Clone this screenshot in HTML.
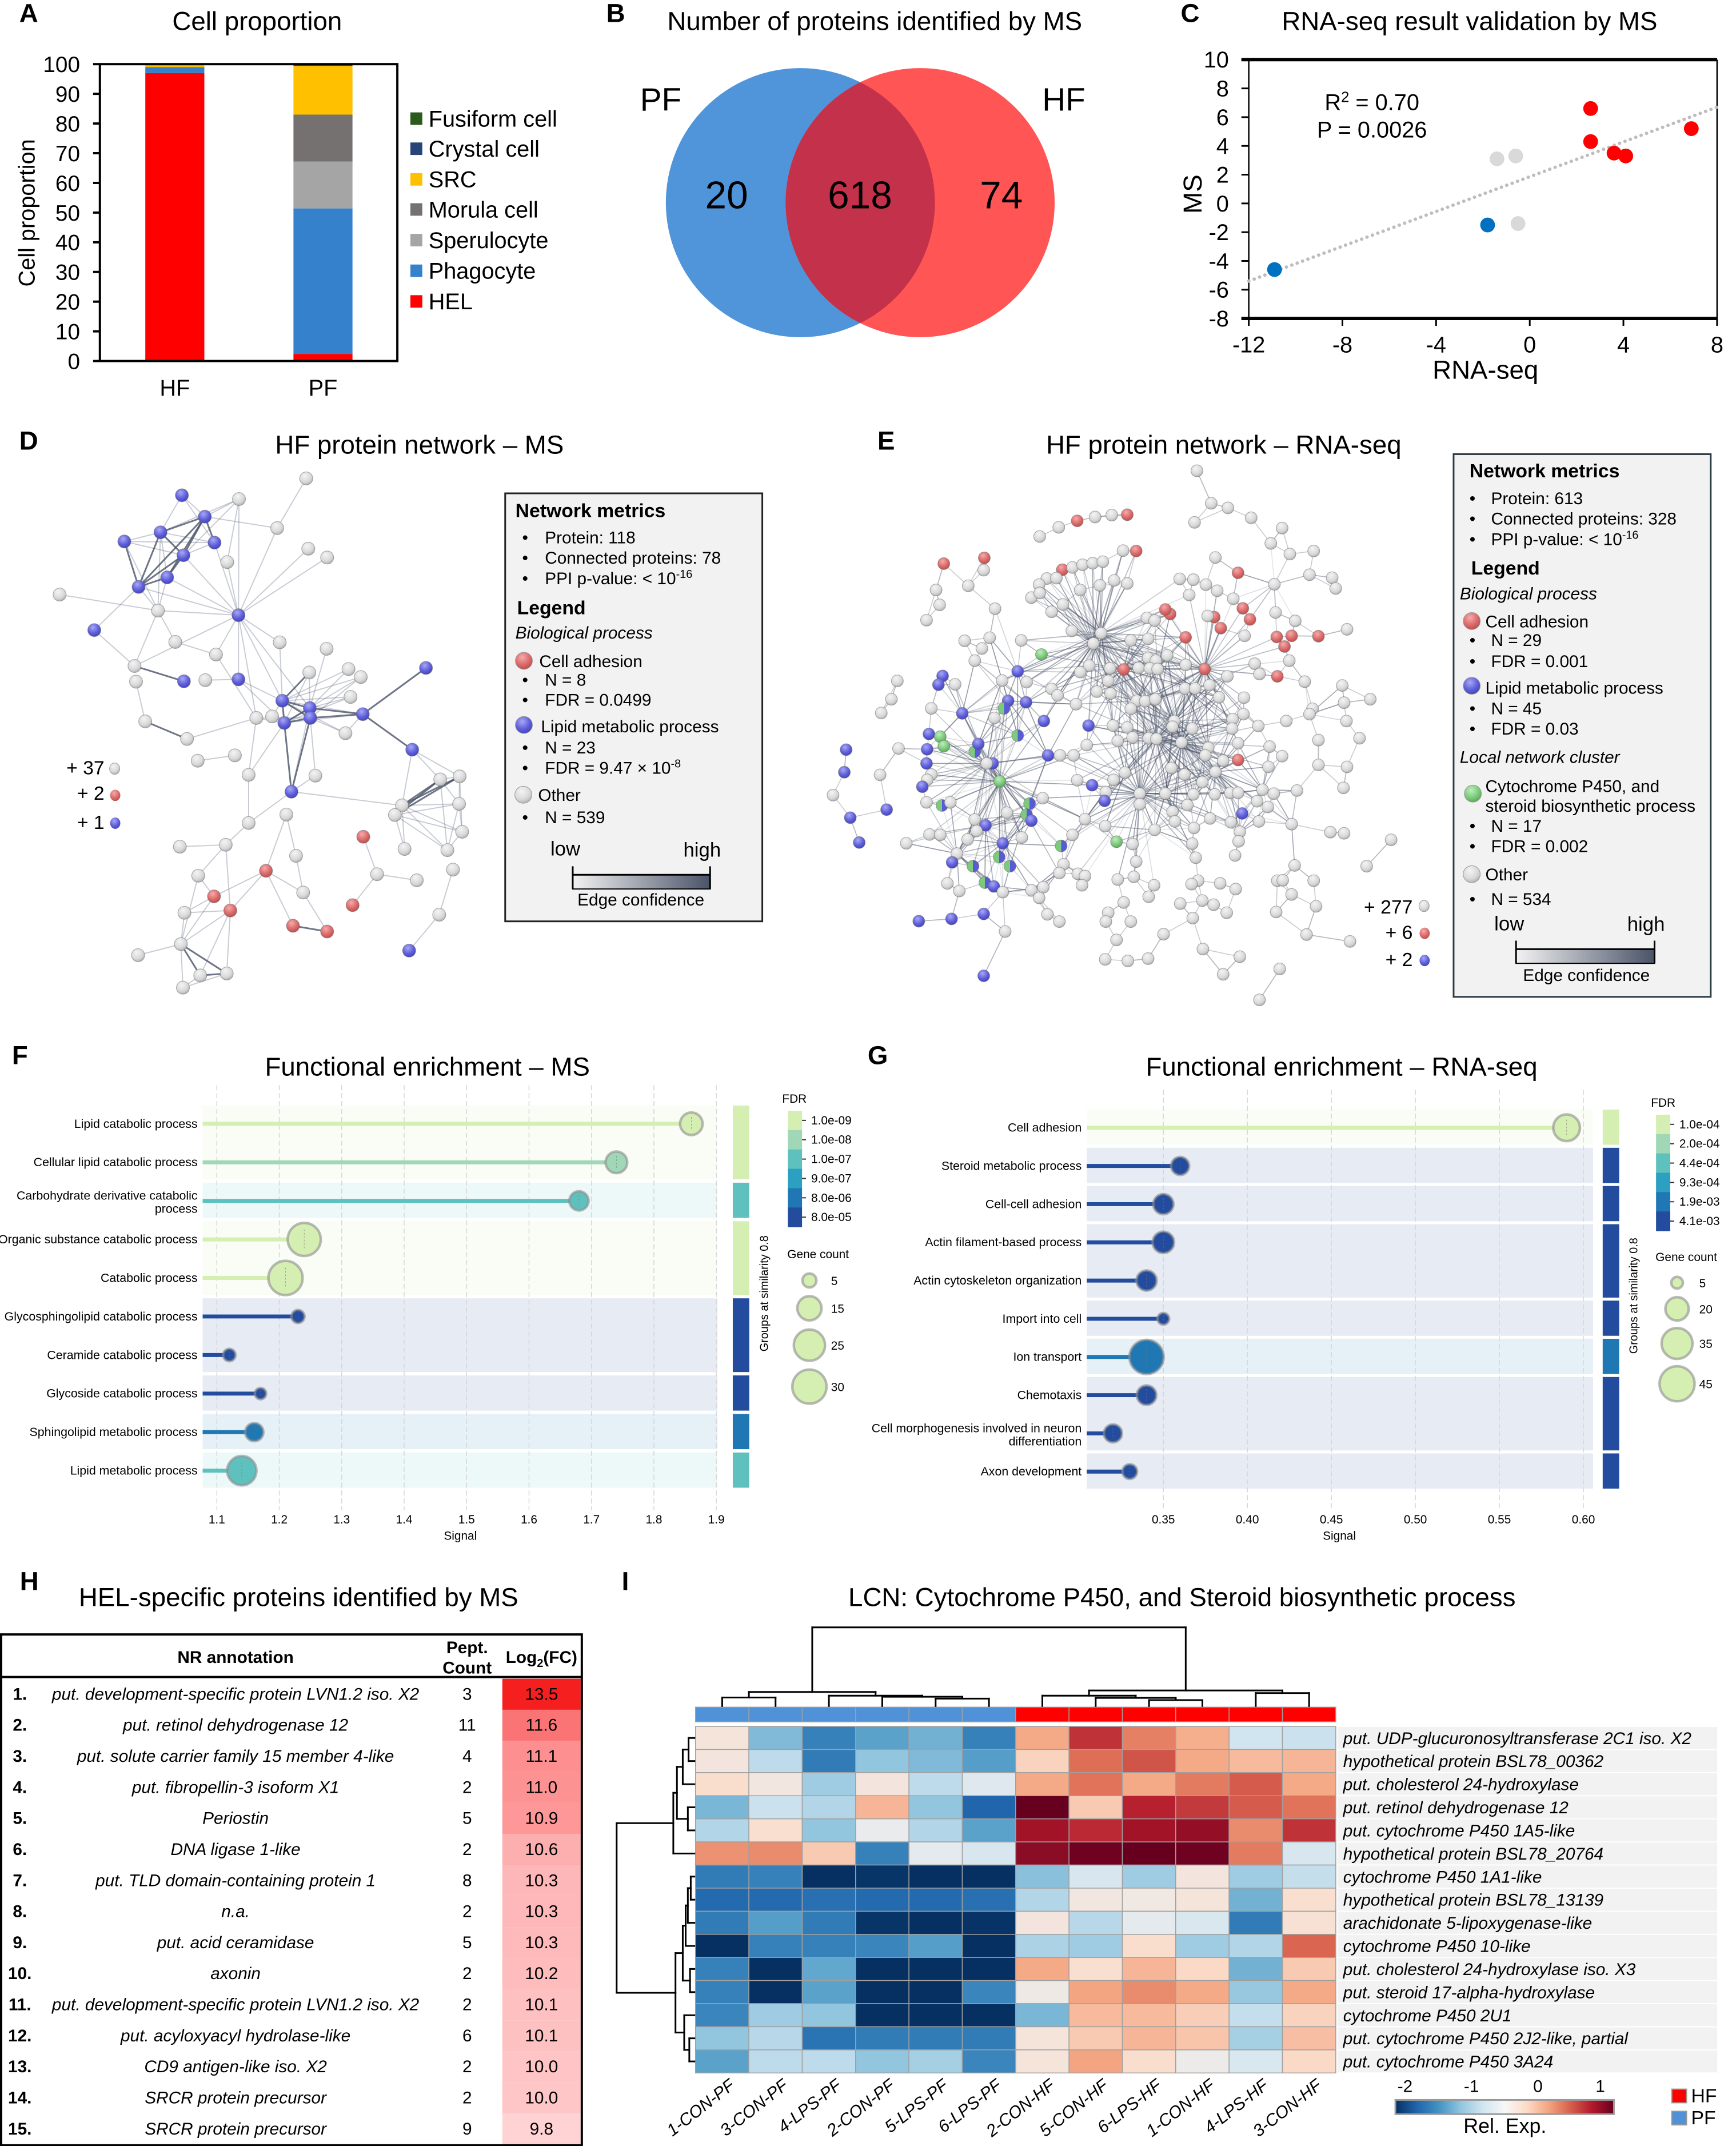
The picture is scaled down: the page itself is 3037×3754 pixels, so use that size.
<!DOCTYPE html>
<html lang="en">
<head>
<meta charset="utf-8">
<title>Multi-panel proteomics figure</title>
<style>
html,body{margin:0;padding:0;background:#fff;width:3037px;height:3754px;overflow:hidden}
svg{display:block}
text{font-family:"Liberation Sans",Arial,sans-serif;fill:#000}
.lab{font-size:46px;font-weight:bold}
.ttl{font-size:46px;text-anchor:middle}
.t40{font-size:40px}
.t30{font-size:30px}
.b34{font-size:34px;font-weight:bold}
.it{font-style:italic}
.mid{text-anchor:middle}
.end{text-anchor:end}
.b30{font-size:30px;font-weight:bold}
</style>
</head>
<body>
<svg xmlns="http://www.w3.org/2000/svg" width="3037" height="3754" viewBox="0 0 3037 3754">
<defs>
<radialGradient id="nodeG" cx=".4" cy=".3" r=".8"><stop offset="0" stop-color="#f4f4f4"/><stop offset=".6" stop-color="#d8d8d8"/><stop offset="1" stop-color="#a4a4a4"/></radialGradient>
<radialGradient id="nodeB" cx=".4" cy=".3" r=".8"><stop offset="0" stop-color="#a8a8f5"/><stop offset=".55" stop-color="#5f5fdc"/><stop offset="1" stop-color="#3d3db0"/></radialGradient>
<radialGradient id="nodeR" cx=".4" cy=".3" r=".8"><stop offset="0" stop-color="#f5abab"/><stop offset=".55" stop-color="#dc6a6a"/><stop offset="1" stop-color="#b04848"/></radialGradient>
<radialGradient id="nodeN" cx=".4" cy=".3" r=".8"><stop offset="0" stop-color="#bdeebd"/><stop offset=".55" stop-color="#7ccb7c"/><stop offset="1" stop-color="#509f50"/></radialGradient>
<linearGradient id="nodeH"><stop offset=".5" stop-color="#7ccb7c"/><stop offset=".5" stop-color="#5a5ad8"/></linearGradient>
<linearGradient id="edgeGrad"><stop offset="0" stop-color="#f2f2f2"/><stop offset="1" stop-color="#4a5368"/></linearGradient>
<linearGradient id="heatGrad">
<stop offset="0" stop-color="#053061"/><stop offset=".1" stop-color="#2166ac"/><stop offset=".2" stop-color="#4393c3"/><stop offset=".3" stop-color="#92c5de"/><stop offset=".4" stop-color="#d1e5f0"/><stop offset=".5" stop-color="#f7f7f7"/><stop offset=".6" stop-color="#fddbc7"/><stop offset=".7" stop-color="#f4a582"/><stop offset=".8" stop-color="#d6604d"/><stop offset=".9" stop-color="#b2182b"/><stop offset="1" stop-color="#67001f"/>
</linearGradient>
<clipPath id="pfClip"><circle cx="1403" cy="357" r="237"/></clipPath>
</defs>

<!-- Panel A -->
<g transform="scale(.993)">
<text class="lab" x="34" y="39">A</text>
<text class="ttl" x="453" y="53">Cell proportion</text>
<g id="barMarks"></g>
<rect x="176" y="113" width="524" height="523" fill="none" stroke="#000" stroke-width="4"/>
<g id="barAxis"></g>
<text class="t40 mid" transform="translate(61,375) rotate(-90)">Cell proportion</text>
<g>
<rect x="723" y="198" width="21" height="22" fill="#2a5a1c"/><text class="t40" x="755" y="223">Fusiform cell</text>
<rect x="723" y="251" width="21" height="22" fill="#264478"/><text class="t40" x="755" y="276">Crystal cell</text>
<rect x="723" y="305" width="21" height="22" fill="#ffc000"/><text class="t40" x="755" y="330">SRC</text>
<rect x="723" y="358" width="21" height="22" fill="#767171"/><text class="t40" x="755" y="383">Morula cell</text>
<rect x="723" y="412" width="21" height="22" fill="#a5a5a5"/><text class="t40" x="755" y="437">Sperulocyte</text>
<rect x="723" y="466" width="21" height="22" fill="#3681cc"/><text class="t40" x="755" y="491">Phagocyte</text>
<rect x="723" y="520" width="21" height="22" fill="#ff0000"/><text class="t40" x="755" y="545">HEL</text>
</g>
</g>

<!-- Panel B -->
<g transform="translate(1000,0) scale(.993) translate(-1000,0)">
<text class="lab" x="1061" y="39">B</text>
<text class="ttl" x="1534" y="53">Number of proteins identified by MS</text>
<circle cx="1403" cy="357" r="237" fill="#5095d9"/>
<circle cx="1614" cy="357" r="237" fill="#ff5555"/>
<circle cx="1614" cy="357" r="237" fill="#c3314a" clip-path="url(#pfClip)"/>
<text x="1157" y="195" font-size="57" class="mid">PF</text>
<text x="1867" y="195" font-size="57" class="mid">HF</text>
<text x="1273" y="367" font-size="68" class="mid">20</text>
<text x="1508" y="367" font-size="68" class="mid">618</text>
<text x="1757" y="367" font-size="68" class="mid">74</text>
</g>

<!-- Panel C -->
<g transform="translate(1000,0) scale(.993) translate(-1000,0)">
<text class="lab" x="2073" y="39">C</text>
<text class="ttl" x="2582" y="53">RNA-seq result validation by MS</text>
<g id="scatterAxes"></g>
<g id="scatterMarks"></g>
<text class="t40 mid" x="2410" y="194">R<tspan font-size="26" dy="-14">2</tspan><tspan dy="14"> = 0.70</tspan></text>
<text class="t40 mid" x="2410" y="242">P = 0.0026</text>
<text class="ttl" x="2610" y="667">RNA-seq</text>
<text class="mid" font-size="46" transform="translate(2110,342) rotate(-90)">MS</text>
</g>

<!-- Panel D -->
<g transform="translate(0,720) scale(.993) translate(0,-720)">
<text class="lab" x="34" y="787">D</text>
<text class="ttl" x="739" y="794">HF protein network – MS</text>
<g id="netD"></g>
<g>
<text font-size="34" class="end" x="184" y="1359">+ 37</text><ellipse cx="202" cy="1349" rx="9" ry="10" fill="url(#nodeG)" stroke="#999"/>
<text font-size="34" class="end" x="184" y="1404">+ 2</text><ellipse cx="203" cy="1396" rx="9" ry="10" fill="url(#nodeR)"/>
<text font-size="34" class="end" x="184" y="1455">+ 1</text><ellipse cx="203" cy="1445" rx="9" ry="10" fill="url(#nodeB)"/>
</g>
<g>
<rect x="890" y="864" width="453" height="754" fill="#f2f2f2" stroke="#222" stroke-width="3"/>
<text class="b34" x="908" y="906">Network metrics</text>
<text class="t30" x="920" y="952">•</text><text class="t30" x="960" y="952">Protein: 118</text>
<text class="t30" x="920" y="988">•</text><text class="t30" x="960" y="988">Connected proteins: 78</text>
<text class="t30" x="920" y="1024">•</text><text class="t30" x="960" y="1024">PPI p-value: &lt; 10<tspan font-size="20" dy="-11">-16</tspan></text>
<text class="b34" x="911" y="1077">Legend</text>
<text class="t30 it" x="908" y="1120">Biological process</text>
<circle cx="923" cy="1159" r="15" fill="url(#nodeR)" stroke="#999"/>
<text class="t30" x="950" y="1170">Cell adhesion</text>
<text class="t30" x="920" y="1203">•</text><text class="t30" x="960" y="1203">N = 8</text>
<text class="t30" x="920" y="1238">•</text><text class="t30" x="960" y="1238">FDR = 0.0499</text>
<circle cx="923" cy="1272" r="15" fill="url(#nodeB)" stroke="#999"/>
<text class="t30" x="953" y="1285">Lipid metabolic process</text>
<text class="t30" x="920" y="1322">•</text><text class="t30" x="960" y="1322">N = 23</text>
<text class="t30" x="920" y="1358">•</text><text class="t30" x="960" y="1358">FDR = 9.47 × 10<tspan font-size="20" dy="-11">-8</tspan></text>
<circle cx="922" cy="1395" r="15" fill="url(#nodeG)" stroke="#999"/>
<text class="t30" x="948" y="1406">Other</text>
<text class="t30" x="920" y="1445">•</text><text class="t30" x="960" y="1445">N = 539</text>
<text font-size="35" class="mid" x="996" y="1502">low</text>
<text font-size="35" class="mid" x="1237" y="1504">high</text>
<rect x="1009" y="1536" width="242" height="25" fill="url(#edgeGrad)" stroke="#000" stroke-width="2"/>
<path d="M1009 1521V1561M1251 1521V1561M1009 1536H1251" stroke="#000" stroke-width="3" fill="none"/>
<text class="t30 mid" x="1129" y="1590">Edge confidence</text>
</g>
</g>

<!-- Panel E -->
<g transform="translate(1400,720) scale(.993) translate(-1400,-720)">
<text class="lab" x="1536" y="787">E</text>
<text class="ttl" x="2146" y="794">HF protein network – RNA-seq</text>
<g id="netE"></g>
<g>
<text font-size="34" class="end" x="2479" y="1604">+ 277</text><ellipse cx="2499" cy="1591" rx="9" ry="10" fill="url(#nodeG)" stroke="#999"/>
<text font-size="34" class="end" x="2479" y="1649">+ 6</text><ellipse cx="2500" cy="1639" rx="9" ry="10" fill="url(#nodeR)"/>
<text font-size="34" class="end" x="2479" y="1697">+ 2</text><ellipse cx="2500" cy="1687" rx="9" ry="10" fill="url(#nodeB)"/>
</g>
<g>
<rect x="2551" y="795" width="453" height="956" fill="#f2f2f2" stroke="#2a3a44" stroke-width="3"/>
<text class="b34" x="2579" y="836">Network metrics</text>
<text class="t30" x="2579" y="883">•</text><text class="t30" x="2617" y="883">Protein: 613</text>
<text class="t30" x="2579" y="919">•</text><text class="t30" x="2617" y="919">Connected proteins: 328</text>
<text class="t30" x="2579" y="955">•</text><text class="t30" x="2617" y="955">PPI p-value: &lt; 10<tspan font-size="20" dy="-11">-16</tspan></text>
<text class="b34" x="2582" y="1007">Legend</text>
<text class="t30 it" x="2562" y="1051">Biological process</text>
<circle cx="2583" cy="1089" r="15" fill="url(#nodeR)" stroke="#999"/>
<text class="t30" x="2607" y="1100">Cell adhesion</text>
<text class="t30" x="2579" y="1133">•</text><text class="t30" x="2617" y="1133">N = 29</text>
<text class="t30" x="2579" y="1170">•</text><text class="t30" x="2617" y="1170">FDR = 0.001</text>
<circle cx="2583" cy="1203" r="15" fill="url(#nodeB)" stroke="#999"/>
<text class="t30" x="2607" y="1217">Lipid metabolic process</text>
<text class="t30" x="2579" y="1253">•</text><text class="t30" x="2617" y="1253">N = 45</text>
<text class="t30" x="2579" y="1289">•</text><text class="t30" x="2617" y="1289">FDR = 0.03</text>
<text class="t30 it" x="2562" y="1339">Local network cluster</text>
<circle cx="2585" cy="1393" r="15" fill="url(#nodeN)" stroke="#999"/>
<text class="t30" x="2607" y="1390">Cytochrome P450, and</text>
<text class="t30" x="2607" y="1425">steroid biosynthetic process</text>
<text class="t30" x="2579" y="1460">•</text><text class="t30" x="2617" y="1460">N = 17</text>
<text class="t30" x="2579" y="1496">•</text><text class="t30" x="2617" y="1496">FDR = 0.002</text>
<circle cx="2583" cy="1535" r="15" fill="url(#nodeG)" stroke="#999"/>
<text class="t30" x="2607" y="1546">Other</text>
<text class="t30" x="2579" y="1589">•</text><text class="t30" x="2617" y="1589">N = 534</text>
<text font-size="35" class="mid" x="2649" y="1634">low</text>
<text font-size="35" class="mid" x="2890" y="1635">high</text>
<rect x="2661" y="1667" width="244" height="25" fill="url(#edgeGrad)" stroke="#000" stroke-width="2"/>
<path d="M2661 1652V1692M2905 1652V1692M2661 1667H2905" stroke="#000" stroke-width="3" fill="none"/>
<text class="t30 mid" x="2785" y="1723">Edge confidence</text>
</g>
</g>

<!-- Panel F / G -->
<g transform="translate(0,1800) scale(.993) translate(0,-1800)">
<text class="lab" x="21" y="1862">F</text>
<text class="ttl" x="753" y="1882">Functional enrichment – MS</text>
<g id="lolliF"></g>
</g>
<g transform="translate(1500,1800) scale(.993) translate(-1500,-1800)">
<text class="lab" x="1518" y="1862">G</text>
<text class="ttl" x="2353" y="1882">Functional enrichment – RNA-seq</text>
<g id="lolliG"></g>
</g>

<!-- Panel H -->
<g transform="translate(0,2740) scale(.993) translate(0,-2740)">
<text class="lab" x="35" y="2782">H</text>
<text class="ttl" x="526" y="2810">HEL-specific proteins identified by MS</text>
<g>
<text class="b30 mid" x="415" y="2910">NR annotation</text>
<text class="b30 mid" x="823" y="2893">Pept.</text>
<text class="b30 mid" x="823" y="2929">Count</text>
<text class="b30 mid" x="954" y="2910">Log<tspan font-size="20" dy="7">2</tspan><tspan dy="-7">(FC)</tspan></text>
<g transform="translate(0,2938)"><rect x="885" y="0" width="138" height="54.7" fill="#f61f1f"/><text class="b30 mid" x="35" y="37">1.</text><text class="t30 it mid" x="415" y="37">put. development-specific protein LVN1.2 iso. X2</text><text class="t30 mid" x="823" y="37">3</text><text class="t30 mid" x="954" y="37">13.5</text></g>
<g transform="translate(0,2992.7)"><rect x="885" y="0" width="138" height="54.7" fill="#fa7475"/><text class="b30 mid" x="35" y="37">2.</text><text class="t30 it mid" x="415" y="37">put. retinol dehydrogenase 12</text><text class="t30 mid" x="823" y="37">11</text><text class="t30 mid" x="954" y="37">11.6</text></g>
<g transform="translate(0,3047.4)"><rect x="885" y="0" width="138" height="54.7" fill="#fd8f90"/><text class="b30 mid" x="35" y="37">3.</text><text class="t30 it mid" x="415" y="37">put. solute carrier family 15 member 4-like</text><text class="t30 mid" x="823" y="37">4</text><text class="t30 mid" x="954" y="37">11.1</text></g>
<g transform="translate(0,3102.1)"><rect x="885" y="0" width="138" height="54.7" fill="#fd9293"/><text class="b30 mid" x="35" y="37">4.</text><text class="t30 it mid" x="415" y="37">put. fibropellin-3 isoform X1</text><text class="t30 mid" x="823" y="37">2</text><text class="t30 mid" x="954" y="37">11.0</text></g>
<g transform="translate(0,3156.8)"><rect x="885" y="0" width="138" height="54.7" fill="#fd9798"/><text class="b30 mid" x="35" y="37">5.</text><text class="t30 it mid" x="415" y="37">Periostin</text><text class="t30 mid" x="823" y="37">5</text><text class="t30 mid" x="954" y="37">10.9</text></g>
<g transform="translate(0,3211.5)"><rect x="885" y="0" width="138" height="54.7" fill="#fdaeae"/><text class="b30 mid" x="35" y="37">6.</text><text class="t30 it mid" x="415" y="37">DNA ligase 1-like</text><text class="t30 mid" x="823" y="37">2</text><text class="t30 mid" x="954" y="37">10.6</text></g>
<g transform="translate(0,3266.2)"><rect x="885" y="0" width="138" height="54.7" fill="#feb7b8"/><text class="b30 mid" x="35" y="37">7.</text><text class="t30 it mid" x="415" y="37">put. TLD domain-containing protein 1</text><text class="t30 mid" x="823" y="37">8</text><text class="t30 mid" x="954" y="37">10.3</text></g>
<g transform="translate(0,3320.9)"><rect x="885" y="0" width="138" height="54.7" fill="#feb8b9"/><text class="b30 mid" x="35" y="37">8.</text><text class="t30 it mid" x="415" y="37">n.a.</text><text class="t30 mid" x="823" y="37">2</text><text class="t30 mid" x="954" y="37">10.3</text></g>
<g transform="translate(0,3375.6)"><rect x="885" y="0" width="138" height="54.7" fill="#feb9ba"/><text class="b30 mid" x="35" y="37">9.</text><text class="t30 it mid" x="415" y="37">put. acid ceramidase</text><text class="t30 mid" x="823" y="37">5</text><text class="t30 mid" x="954" y="37">10.3</text></g>
<g transform="translate(0,3430.3)"><rect x="885" y="0" width="138" height="54.7" fill="#febcbd"/><text class="b30 mid" x="35" y="37">10.</text><text class="t30 it mid" x="415" y="37">axonin</text><text class="t30 mid" x="823" y="37">2</text><text class="t30 mid" x="954" y="37">10.2</text></g>
<g transform="translate(0,3485)"><rect x="885" y="0" width="138" height="54.7" fill="#fec0c1"/><text class="b30 mid" x="35" y="37">11.</text><text class="t30 it mid" x="415" y="37">put. development-specific protein LVN1.2 iso. X2</text><text class="t30 mid" x="823" y="37">2</text><text class="t30 mid" x="954" y="37">10.1</text></g>
<g transform="translate(0,3539.7)"><rect x="885" y="0" width="138" height="54.7" fill="#fec1c2"/><text class="b30 mid" x="35" y="37">12.</text><text class="t30 it mid" x="415" y="37">put. acyloxyacyl hydrolase-like</text><text class="t30 mid" x="823" y="37">6</text><text class="t30 mid" x="954" y="37">10.1</text></g>
<g transform="translate(0,3594.4)"><rect x="885" y="0" width="138" height="54.7" fill="#ffc5c6"/><text class="b30 mid" x="35" y="37">13.</text><text class="t30 it mid" x="415" y="37">CD9 antigen-like iso. X2</text><text class="t30 mid" x="823" y="37">2</text><text class="t30 mid" x="954" y="37">10.0</text></g>
<g transform="translate(0,3649.1)"><rect x="885" y="0" width="138" height="54.7" fill="#ffc6c7"/><text class="b30 mid" x="35" y="37">14.</text><text class="t30 it mid" x="415" y="37">SRCR protein precursor</text><text class="t30 mid" x="823" y="37">2</text><text class="t30 mid" x="954" y="37">10.0</text></g>
<g transform="translate(0,3703.8)"><rect x="885" y="0" width="138" height="54.7" fill="#ffd3d4"/><text class="b30 mid" x="35" y="37">15.</text><text class="t30 it mid" x="415" y="37">SRCR protein precursor</text><text class="t30 mid" x="823" y="37">9</text><text class="t30 mid" x="954" y="37">9.8</text></g>
<rect x="2" y="2860" width="1023" height="900" fill="none" stroke="#000" stroke-width="4"/>
<line x1="2" y1="2935" x2="1025" y2="2935" stroke="#000" stroke-width="4"/>
</g>
</g>

<!-- Panel I -->
<g transform="translate(1040,2740) scale(.993) translate(-1040,-2740)">
<text class="lab" x="1088" y="2782">I</text>
<text class="ttl" x="2075" y="2810">LCN: Cytochrome P450, and Steroid biosynthetic process</text>
<g id="heat"></g>
<g>
<rect x="2451" y="3680" width="385" height="25" fill="url(#heatGrad)" stroke="#999" stroke-width="3"/>
<text class="t30 mid" x="2468" y="3666">-2</text>
<text class="t30 mid" x="2585" y="3666">-1</text>
<text class="t30 mid" x="2702" y="3666">0</text>
<text class="t30 mid" x="2812" y="3666">1</text>
<text font-size="36" class="mid" x="2644" y="3738">Rel. Exp.</text>
<rect x="2938" y="3661" width="26" height="24" fill="#ff0000" stroke="#999" stroke-width="2"/>
<text font-size="34" x="2972" y="3684">HF</text>
<rect x="2938" y="3700" width="26" height="24" fill="#4f92d8" stroke="#999" stroke-width="2"/>
<text font-size="34" x="2972" y="3723">PF</text>
</g>
</g>
</svg>

<script>
/* ===== Panel A data ===== */
const barCategories = ['HF', 'PF'];
const barSeriesNames = ['HEL', 'Phagocyte', 'Sperulocyte', 'Morula cell', 'SRC', 'Crystal cell', 'Fusiform cell'];
const hfShares = [97, 2, 0, 0, 0.8, 0.1, 0.1];
const pfShares = [2.4, 49, 15.8, 15.8, 16.4, 0.5, 0.1];
const barTicks = [0, 10, 20, 30, 40, 50, 60, 70, 80, 90, 100];

/* ===== Panel C data ===== */
const scatterRna = [-10.9, -1.8, -0.5, -1.4, -0.6, 2.6, 2.6, 3.6, 4.1, 6.9];
const scatterMs = [-4.6, -1.5, -1.4, 3.1, 3.3, 6.6, 4.3, 3.5, 3.3, 5.2];
const scatterGroup = ['down', 'down', 'none', 'none', 'none', 'up', 'up', 'up', 'up', 'up'];
const scatterXTicks = [-12, -8, -4, 0, 4, 8];
const scatterYTicks = [-8, -6, -4, -2, 0, 2, 4, 6, 8, 10];
const trendRna = [-12, 8];
const trendMs = [-5.4, 6.7];

/* ===== Panel D network ===== */
const netDNodes = [[601,175,'g'],[357,219,'b'],[469,229,'g'],[402,275,'b'],[544,305,'g'],[315,316,'b'],[244,340,'b'],[421,343,'b'],[605,359,'g'],[642,382,'g'],[360,376,'b'],[446,394,'g'],[328,434,'b'],[272,459,'b'],[117,479,'g'],[310,521,'g'],[468,533,'b'],[185,572,'b'],[344,603,'g'],[549,604,'g'],[424,636,'g'],[641,621,'g'],[264,666,'g'],[684,674,'g'],[836,671,'b'],[607,683,'g'],[708,695,'g'],[267,707,'g'],[361,706,'b'],[403,703,'g'],[468,701,'b'],[688,747,'g'],[554,757,'b'],[608,776,'b'],[712,792,'b'],[503,802,'g'],[534,798,'g'],[558,815,'b'],[609,802,'b'],[678,842,'g'],[285,811,'g'],[367,857,'g'],[809,885,'b'],[388,914,'g'],[461,900,'g'],[488,951,'g'],[619,953,'g'],[572,995,'b'],[864,963,'g'],[902,955,'g'],[789,1031,'g'],[901,1027,'g'],[775,1056,'g'],[562,1055,'g'],[488,1077,'g'],[907,1100,'g'],[713,1113,'r'],[353,1139,'g'],[443,1134,'g'],[794,1145,'g'],[878,1148,'g'],[581,1163,'g'],[889,1199,'g'],[522,1202,'r'],[740,1211,'g'],[389,1215,'g'],[818,1227,'g'],[595,1259,'g'],[420,1269,'r'],[692,1292,'r'],[452,1306,'r'],[362,1312,'g'],[862,1317,'g'],[575,1346,'r'],[642,1361,'r'],[355,1394,'g'],[803,1411,'b'],[271,1423,'g'],[393,1476,'g'],[445,1471,'g'],[359,1508,'g']];
const netDStrongEdges = [[6,4],[6,11],[6,14],[7,14],[4,8],[4,11],[4,13],[4,14],[11,13],[11,14],[13,14],[23,29],[33,34],[33,38],[33,39],[34,35],[34,38],[34,39],[38,39],[39,35],[26,33],[25,35],[35,43],[48,38],[48,39],[49,51],[49,53],[50,51],[50,53],[74,75],[76,79],[76,80],[79,80],[41,42]];
const netDWeakEdges = [[6,8],[6,13],[7,6],[7,8],[7,11],[11,8],[2,4],[2,6],[2,8],[3,4],[3,6],[3,11],[4,5],[3,12],[8,17],[12,17],[11,17],[13,17],[14,17],[6,16],[13,16],[14,16],[7,16],[16,17],[15,16],[5,17],[3,17],[9,17],[10,17],[1,5],[14,18],[18,23],[16,19],[19,21],[16,23],[17,21],[17,20],[17,23],[28,41],[42,36],[30,31],[17,31],[17,33],[17,36],[17,34],[20,33],[31,33],[31,38],[21,36],[26,34],[26,38],[22,34],[24,33],[24,34],[27,33],[27,38],[27,39],[32,33],[32,38],[32,34],[33,35],[35,40],[39,40],[33,40],[36,38],[37,38],[37,33],[36,39],[38,35],[43,51],[43,49],[43,50],[48,34],[48,47],[47,39],[46,38],[46,36],[46,55],[44,45],[48,51],[48,55],[54,64],[54,62],[62,68],[55,59],[59,58],[59,66],[59,71],[64,69],[64,71],[64,68],[64,74],[68,75],[57,65],[65,67],[65,70],[63,73],[73,77],[49,50],[49,52],[50,52],[51,52],[53,52],[52,56],[50,56],[51,56],[53,56],[51,60],[53,60],[51,61],[53,61],[52,61],[56,61],[49,61],[66,76],[69,72],[69,66],[71,72],[71,76],[72,76],[76,78],[76,81],[79,81],[71,80],[71,79],[80,81],[69,76]];

/* ===== Panel E network ===== */
const netENodes = [[666,155,'g'],[690,240,'g'],[718,252,'g'],[662,290,'g'],[757,278,'g'],[465,286,'r'],[495,276,'g'],[523,271,'g'],[549,270,'r'],[434,303,'g'],[402,327,'g'],[809,305,'g'],[790,345,'g'],[822,373,'g'],[862,365,'g'],[542,364,'g'],[564,365,'r'],[697,382,'g'],[309,383,'r'],[241,398,'r'],[308,415,'g'],[440,414,'r'],[457,408,'g'],[474,401,'g'],[491,397,'g'],[508,393,'g'],[735,422,'r'],[855,427,'g'],[893,435,'g'],[899,463,'g'],[796,452,'g'],[282,456,'g'],[228,467,'g'],[414,437,'g'],[430,436,'g'],[401,453,'g'],[527,442,'g'],[549,450,'g'],[503,455,'g'],[470,467,'g'],[637,438,'g'],[660,440,'g'],[681,453,'g'],[700,469,'g'],[653,480,'g'],[727,490,'g'],[388,487,'g'],[402,475,'g'],[441,505,'g'],[234,506,'g'],[327,516,'g'],[422,524,'g'],[621,530,'r'],[613,518,'r'],[743,515,'r'],[798,526,'g'],[695,538,'r'],[755,544,'r'],[684,535,'g'],[582,540,'g'],[595,547,'g'],[212,546,'g'],[831,548,'g'],[918,570,'g'],[706,567,'r'],[456,574,'g'],[505,580,'g'],[276,600,'g'],[318,592,'g'],[371,599,'g'],[555,599,'g'],[584,595,'g'],[647,591,'r'],[746,587,'g'],[800,590,'r'],[825,587,'r'],[870,588,'r'],[813,615,'r'],[492,607,'g'],[305,620,'g'],[293,652,'g'],[405,636,'n'],[616,638,'g'],[584,645,'g'],[597,652,'g'],[821,652,'g'],[485,665,'g'],[647,663,'g'],[763,660,'g'],[520,672,'g'],[543,675,'r'],[568,671,'g'],[587,672,'g'],[600,674,'g'],[679,674,'r'],[365,680,'b'],[470,682,'g'],[771,687,'g'],[801,693,'r'],[717,693,'g'],[239,692,'b'],[163,705,'g'],[232,715,'b'],[260,714,'g'],[339,704,'g'],[380,708,'g'],[847,707,'g'],[517,705,'g'],[687,716,'g'],[646,725,'g'],[663,725,'g'],[422,726,'g'],[498,733,'g'],[521,738,'g'],[910,717,'g'],[432,743,'g'],[703,748,'g'],[745,749,'g'],[153,753,'g'],[957,753,'g'],[913,762,'g'],[349,757,'b'],[379,761,'b'],[565,757,'g'],[579,758,'g'],[596,753,'g'],[463,766,'g'],[220,777,'g'],[342,777,'h'],[136,789,'g'],[272,790,'b'],[860,778,'g'],[855,792,'g'],[744,792,'g'],[726,805,'g'],[326,802,'g'],[555,778,'g'],[409,810,'b'],[628,810,'g'],[917,810,'g'],[816,810,'g'],[484,822,'b'],[525,822,'g'],[549,827,'g'],[625,825,'g'],[658,830,'g'],[725,830,'g'],[769,823,'g'],[365,848,'h'],[216,844,'b'],[235,851,'n'],[241,876,'n'],[585,855,'g'],[598,857,'g'],[533,862,'g'],[558,853,'g'],[640,866,'g'],[735,868,'g'],[870,860,'g'],[939,855,'g'],[165,882,'g'],[77,885,'b'],[213,884,'b'],[293,890,'h'],[299,870,'b'],[481,873,'g'],[685,880,'g'],[788,877,'g'],[416,900,'b'],[436,900,'g'],[459,900,'g'],[680,900,'g'],[710,914,'g'],[735,912,'r'],[809,902,'g'],[212,921,'b'],[323,921,'b'],[313,921,'g'],[870,925,'g'],[918,930,'g'],[786,930,'g'],[623,933,'g'],[74,944,'b'],[134,951,'g'],[697,943,'g'],[545,945,'g'],[220,950,'g'],[213,964,'g'],[335,968,'n'],[465,965,'g'],[526,964,'g'],[645,950,'g'],[675,970,'g'],[490,978,'b'],[205,982,'b'],[912,985,'g'],[834,992,'g'],[55,1004,'g'],[570,1000,'g'],[613,1000,'g'],[513,996,'g'],[696,1002,'g'],[722,998,'g'],[735,998,'g'],[776,990,'g'],[795,1000,'g'],[660,1002,'g'],[407,1012,'g'],[511,1019,'b'],[212,1023,'g'],[238,1031,'h'],[252,1023,'g'],[385,1026,'h'],[570,1028,'g'],[767,1020,'g'],[145,1042,'b'],[84,1063,'b'],[347,1050,'g'],[380,1055,'h'],[625,1047,'g'],[650,1030,'g'],[742,1052,'b'],[785,1035,'g'],[478,1067,'g'],[293,1068,'g'],[388,1071,'b'],[629,1073,'g'],[688,1065,'g'],[723,1075,'g'],[770,1073,'g'],[825,1080,'g'],[311,1083,'b'],[512,1085,'g'],[595,1095,'g'],[661,1090,'g'],[738,1100,'g'],[890,1101,'g'],[913,1104,'g'],[217,1107,'g'],[235,1108,'g'],[296,1098,'g'],[457,1108,'g'],[281,1120,'g'],[372,1115,'g'],[736,1125,'g'],[992,1121,'g'],[99,1128,'b'],[178,1130,'g'],[340,1130,'b'],[531,1126,'n'],[558,1132,'g'],[658,1131,'g'],[438,1137,'h'],[263,1157,'g'],[664,1168,'g'],[730,1162,'g'],[334,1166,'h'],[564,1178,'g'],[255,1180,'b'],[290,1190,'h'],[352,1190,'h'],[442,1185,'g'],[830,1188,'g'],[951,1190,'g'],[435,1208,'g'],[466,1210,'g'],[478,1216,'g'],[533,1225,'g'],[560,1218,'g'],[668,1228,'g'],[657,1237,'g'],[801,1228,'g'],[810,1227,'g'],[862,1228,'g'],[705,1235,'g'],[473,1240,'g'],[247,1235,'g'],[310,1233,'h'],[325,1243,'b'],[594,1240,'g'],[731,1250,'g'],[267,1255,'g'],[388,1253,'g'],[408,1245,'g'],[340,1258,'g'],[825,1264,'g'],[401,1273,'g'],[585,1270,'g'],[638,1288,'g'],[675,1280,'g'],[694,1291,'g'],[543,1285,'g'],[866,1295,'g'],[799,1310,'g'],[716,1312,'g'],[517,1312,'g'],[415,1316,'g'],[308,1315,'b'],[254,1328,'b'],[199,1334,'b'],[435,1335,'g'],[513,1335,'g'],[555,1335,'g'],[659,1326,'g'],[344,1361,'g'],[610,1368,'g'],[850,1369,'g'],[531,1383,'g'],[923,1387,'g'],[676,1407,'g'],[512,1434,'g'],[550,1438,'g'],[584,1432,'g'],[738,1427,'g'],[805,1459,'g'],[710,1473,'g'],[308,1477,'b'],[771,1540,'g']];
const netEHubs = [[492,607,175,1],[505,580,170,1],[679,674,150,1],[543,675,150,1],[596,855,170,1],[640,866,170,1],[570,1000,180,1],[613,1000,150,2],[313,921,150,1],[335,968,170,1],[263,1157,110,1],[825,1080,90,1],[796,452,90,1],[855,792,85,1],[365,680,130,2],[416,900,110,2],[697,943,120,1],[520,672,120,2],[600,674,120,2],[646,725,120,2],[663,725,120,2],[565,757,120,2],[628,810,130,2],[658,830,120,2],[680,900,110,2],[545,945,120,2],[272,790,120,2],[299,870,120,2],[340,1130,110,1],[380,1055,120,2],[311,1083,110,1],[349,757,120,2],[379,761,120,2],[478,1067,90,1],[595,1095,90,1],[442,1185,75,1],[340,1258,75,1],[388,1253,70,1],[738,1100,80,1],[776,990,100,1]];

/* ===== Panels F, G data ===== */
const fdrPalette = ['#d5eeb1', '#a0d8b7', '#5fc1bd', '#2ba0c1', '#1f78b4', '#234c9e'];
const msTerms = ['Lipid catabolic process', 'Cellular lipid catabolic process', 'Carbohydrate derivative catabolic\nprocess', 'Organic substance catabolic process', 'Catabolic process', 'Glycosphingolipid catabolic process', 'Ceramide catabolic process', 'Glycoside catabolic process', 'Sphingolipid metabolic process', 'Lipid metabolic process'];
const msSignal = [1.86, 1.74, 1.68, 1.24, 1.21, 1.23, 1.12, 1.17, 1.16, 1.14];
const msGeneCount = [13, 12, 9.5, 28, 30, 4.4, 4, 3.3, 8.5, 22];
const msFdrClass = [0, 1, 2, 0, 0, 5, 5, 5, 4, 2];
const msGroupStarts = [0, 2, 3, 5, 7, 8, 9];
const msGroupEnds = [1, 2, 4, 6, 7, 8, 9];
const msTicks = [1.1, 1.2, 1.3, 1.4, 1.5, 1.6, 1.7, 1.8, 1.9];
const msFdrLabels = ['1.0e-09', '1.0e-08', '1.0e-07', '9.0e-07', '8.0e-06', '8.0e-05'];
const msLegendCounts = [5, 15, 25, 30];
const rnaTerms = ['Cell adhesion', 'Steroid metabolic process', 'Cell-cell adhesion', 'Actin filament-based process', 'Actin cytoskeleton organization', 'Import into cell', 'Ion transport', 'Chemotaxis', 'Cell morphogenesis involved in neuron\ndifferentiation', 'Axon development'];
const rnaSignal = [0.59, 0.36, 0.35, 0.35, 0.34, 0.35, 0.34, 0.34, 0.32, 0.33];
const rnaGeneCount = [26, 12, 15, 17, 15, 5, 43, 14, 12, 8];
const rnaFdrClass = [0, 5, 5, 5, 5, 5, 4, 5, 5, 5];
const rnaGroupStarts = [0, 1, 2, 3, 5, 6, 7, 9];
const rnaGroupEnds = [0, 1, 2, 4, 5, 6, 8, 9];
const rnaTicks = [0.35, 0.40, 0.45, 0.50, 0.55, 0.60];
const rnaFdrLabels = ['1.0e-04', '2.0e-04', '4.4e-04', '9.3e-04', '1.9e-03', '4.1e-03'];
const rnaLegendCounts = [5, 20, 35, 45];

/* ===== Panel I data ===== */
const heatCols = ['1-CON-PF', '3-CON-PF', '4-LPS-PF', '2-CON-PF', '5-LPS-PF', '6-LPS-PF', '2-CON-HF', '5-CON-HF', '6-LPS-HF', '1-CON-HF', '4-LPS-HF', '3-CON-HF'];
const heatGroups = ['PF', 'PF', 'PF', 'PF', 'PF', 'PF', 'HF', 'HF', 'HF', 'HF', 'HF', 'HF'];
const heatRows = ['put. UDP-glucuronosyltransferase 2C1 iso. X2', 'hypothetical protein BSL78_00362', 'put. cholesterol 24-hydroxylase', 'put. retinol dehydrogenase 12', 'put. cytochrome P450 1A5-like', 'hypothetical protein BSL78_20764', 'cytochrome P450 1A1-like', 'hypothetical protein BSL78_13139', 'arachidonate 5-lipoxygenase-like', 'cytochrome P450 10-like', 'put. cholesterol 24-hydroxylase iso. X3', 'put. steroid 17-alpha-hydroxylase', 'cytochrome P450 2U1', 'put. cytochrome P450 2J2-like, partial', 'put. cytochrome P450 3A24'];
const heatValues = [
[-0.30,-1.23,-1.62,-1.39,-1.29,-1.62,0.16,0.72,0.39,0.13,-0.83,-0.86],
[-0.34,-0.93,-1.66,-1.16,-1.23,-1.42,-0.10,0.49,0.59,0.16,0.06,0.09],
[-0.17,-0.37,-1.09,-0.34,-0.93,-0.67,0.16,0.46,0.16,0.42,0.56,0.16],
[-1.26,-0.86,-0.99,0.09,-1.16,-1.82,1.15,-0.04,0.79,0.69,0.56,0.46],
[-0.99,-0.20,-1.16,-0.53,-0.99,-1.39,0.89,0.75,0.89,0.95,0.33,0.72],
[0.29,0.33,-0.04,-1.62,-0.60,-0.76,0.99,1.12,1.15,1.12,0.42,-0.76],
[-1.66,-1.62,-2.15,-2.12,-2.15,-2.15,-1.19,-0.76,-1.09,-0.34,-1.09,-0.90],
[-1.79,-1.79,-1.75,-1.79,-1.79,-1.75,-0.99,-0.37,-0.40,-0.30,-1.29,-0.20],
[-1.66,-1.42,-1.66,-2.12,-2.15,-2.13,-0.34,-0.96,-0.60,-0.73,-1.66,-0.24],
[-2.15,-1.62,-1.62,-1.59,-1.42,-2.15,-1.03,-1.09,-0.17,-1.09,-0.99,0.52],
[-1.62,-2.15,-1.36,-2.15,-2.15,-2.15,0.16,-0.20,0.09,-0.14,-1.29,-0.04],
[-1.62,-2.15,-1.39,-2.15,-2.15,-1.59,-0.43,0.19,0.33,0.16,-1.13,0.16],
[-1.59,-1.09,-1.16,-2.15,-2.15,-2.15,-1.26,0.06,0.06,-0.07,-0.90,-0.10],
[-1.16,-0.96,-1.72,-1.66,-1.66,-1.66,-0.30,-0.04,0.09,-0.01,-1.06,0.03],
[-1.39,-0.93,-0.93,-1.16,-1.06,-1.59,-0.30,0.19,-0.17,-0.47,-0.73,-0.14]
];
const heatColTree = [213, [38, [23, 0, 1], [28, 2, [25, 3, [20, 4, 5]]]], [42, [28, 6, [22, 7, [16, 8, 9]]], [35, 10, 11]]];
const heatRowTree = [107, [29, [24, [16, [8, 0, 1], 2], [9, 3, 4]], 5], [26, [16, [12, [9, [5, 6, 7], 8], 9], [6, 10, 11]], [14, 12, [7, 13, 14]]]];

/* ===== helpers ===== */
const NS = 'http://www.w3.org/2000/svg';
function mk(tag, attrs, parent) {
  const e = document.createElementNS(NS, tag);
  for (const k in attrs) e.setAttribute(k, attrs[k]);
  parent.appendChild(e);
  return e;
}
function byId(id) { return document.getElementById(id); }

/* ===== Panel A ===== */
(function () {
  const marks = byId('barMarks');
  const axis = byId('barAxis');
  const colors = ['#ff0000', '#3681cc', '#a5a5a5', '#767171', '#ffc000', '#264478', '#2a5a1c'];
  const yA = v => 636 - v * 5.23;
  const xA = i => 308 + i * 261;
  [hfShares, pfShares].forEach((series, c) => {
    let acc = 0;
    series.forEach((v, s) => {
      const r = mk('rect', { x: xA(c) - 52, y: yA(acc + v), width: 104, height: yA(acc) - yA(acc + v), fill: colors[s] }, marks);
      
      
      acc += v;
    });
    const lab = mk('text', { x: xA(c), y: 697, 'font-size': 40, 'text-anchor': 'middle' }, axis);
    lab.textContent = barCategories[c];
    
    
  });
  barTicks.forEach(t => {
    const tick = mk('line', { x1: 164, x2: 176, y1: yA(t), y2: yA(t), stroke: '#000', 'stroke-width': 4 }, axis);
    
    
    const lab = mk('text', { x: 141, y: yA(t) + 14, 'font-size': 39, 'text-anchor': 'end' }, axis);
    lab.textContent = t;
    
    
  });
})();

/* ===== Panel C ===== */
(function () {
  const axes = byId('scatterAxes');
  const marks = byId('scatterMarks');
  const xC = v => 2193 + (v + 12) * 41.25;
  const yC = v => 561 - (v + 8) * 25.33;
  const groupColor = { up: '#ff0000', down: '#0070c0', none: '#d9d9d9' };
  const frame = mk('path', { d: 'M2193 105V561M3018 105V561', stroke: '#000', 'stroke-width': 2.5, fill: 'none' }, axes);
  
  
  const rules = mk('path', { d: 'M2180 105H3018M2180 561H3018', stroke: '#000', 'stroke-width': 6, fill: 'none' }, axes);
  
  
  scatterYTicks.forEach(t => {
    const tick = mk('line', { x1: 2180, x2: 2193, y1: yC(t), y2: yC(t), stroke: '#000', 'stroke-width': 3 }, axes);
    
    
    const lab = mk('text', { x: 2158, y: yC(t) + 14, 'font-size': 40, 'text-anchor': 'end' }, axes);
    lab.textContent = t;
    
    
  });
  scatterXTicks.forEach(t => {
    const tick = mk('line', { x1: xC(t), x2: xC(t), y1: 561, y2: 574, stroke: '#000', 'stroke-width': 3 }, axes);
    
    
    const lab = mk('text', { x: xC(t), y: 621, 'font-size': 40, 'text-anchor': 'middle' }, axes);
    lab.textContent = t;
    
    
  });
  const trend = mk('line', { x1: xC(trendRna[0]), y1: yC(trendMs[0]), x2: xC(trendRna[1]), y2: yC(trendMs[1]), stroke: '#bdbdbd', 'stroke-width': 6, 'stroke-dasharray': '0.1 10', 'stroke-linecap': 'round' }, marks);
  
  
  scatterRna.forEach((v, i) => {
    const p = mk('circle', { cx: xC(v), cy: yC(scatterMs[i]), r: 13, fill: groupColor[scatterGroup[i]] }, marks);
    
    
  });
})();

/* ===== Networks ===== */
const nodeFill = { g: 'url(#nodeG)', b: 'url(#nodeB)', r: 'url(#nodeR)', n: 'url(#nodeN)', h: 'url(#nodeH)' };
function drawNode(parent, x, y, t, r) {
  const c = mk('circle', { cx: x, cy: y, r: r, fill: nodeFill[t], stroke: '#666', 'stroke-opacity': 0.5, 'stroke-width': 1.2 }, parent);
  
  
}
(function () {
  const g = byId('netD');
  const px = n => n[0] / 1.114;
  const py = n => 720 + n[1] / 1.486;
  netDWeakEdges.forEach(e => {
    const a = netDNodes[e[0] - 1], b = netDNodes[e[1] - 1];
    const l = mk('line', { x1: px(a), y1: py(a), x2: px(b), y2: py(b), stroke: '#5a6480', 'stroke-opacity': 0.33, 'stroke-width': 2 }, g);
    
    
  });
  netDStrongEdges.forEach(e => {
    const a = netDNodes[e[0] - 1], b = netDNodes[e[1] - 1];
    const l = mk('line', { x1: px(a), y1: py(a), x2: px(b), y2: py(b), stroke: '#4a5368', 'stroke-opacity': 0.8, 'stroke-width': 3 }, g);
    
    
  });
  netDNodes.forEach(n => drawNode(g, px(n), py(n), n[2], 11.5));
})();
(function () {
  const g = byId('netE');
  const px = n => 1400 + n[0] / 0.953;
  const py = n => 720 + n[1] / 1.486;
  const seen = {};
  function addEdge(i, j, op, w) {
    if (i === j) return;
    const key = Math.min(i, j) + '_' + Math.max(i, j);
    if (seen[key]) return;
    seen[key] = 1;
    const a = netENodes[i], b = netENodes[j];
    const l = mk('line', { x1: px(a).toFixed(1), y1: py(a).toFixed(1), x2: px(b).toFixed(1), y2: py(b).toFixed(1), stroke: '#4a5368', 'stroke-opacity': op, 'stroke-width': w }, g);
    
    
  }
  netENodes.forEach((n, i) => {
    const ds = netENodes.map((m, j) => [Math.hypot(px(n) - px(m), py(n) - py(m)), j]).sort((p, q) => p[0] - q[0]);
    addEdge(i, ds[1][1], 0.4, 1.8);
    if (ds[2][0] < 70) addEdge(i, ds[2][1], 0.3, 1.6);
  });
  netEHubs.forEach((h, hi) => {
    const hx = 1400 + h[0] / 0.953, hy = 720 + h[1] / 1.486;
    let hubIndex = 0, best = 1e9;
    netENodes.forEach((m, j) => {
      const d = Math.hypot(px(m) - hx, py(m) - hy);
      if (d < best) { best = d; hubIndex = j; }
    });
    netENodes.forEach((m, j) => {
      if (j % h[3] !== 0) return;
      const d = Math.hypot(px(m) - hx, py(m) - hy);
      if (d < h[2]) addEdge(hubIndex, j, 0.14 + ((j * 7 + hi * 13) % 10) * 0.05, 1.7);
    });
  });
  netENodes.forEach(n => drawNode(g, px(n), py(n), n[2], 10.5));
})();

/* ===== Lollipops ===== */
function drawLollipop(cfg) {
  const g = byId(cfg.id);
  const rowY = i => cfg.rowStart + cfg.rowStep * i;
  const xS = cfg.xScale;
  cfg.groupStarts.forEach((s, k) => {
    const e = cfg.groupEnds[k];
    const color = fdrPalette[cfg.fdrClass[s]];
    const top = rowY(s) - 32, h = rowY(e) + 30 - top;
    const band = mk('rect', { x: cfg.left, y: top, width: cfg.right - cfg.left, height: h, fill: color, 'fill-opacity': 0.11 }, g);
    
    
    const side = mk('rect', { x: cfg.sideX, y: top, width: 29, height: h, fill: color }, g);
    
    
  });
  cfg.ticks.forEach(t => {
    const grid = mk('line', { x1: xS(t), x2: xS(t), y1: cfg.gridTop, y2: 2648, stroke: '#d6d6d6', 'stroke-width': 1.5, 'stroke-dasharray': '9 5' }, g);
    
    
    const lab = mk('text', { x: xS(t), y: 2671, 'font-size': 21, 'text-anchor': 'middle' }, g);
    lab.textContent = t.toFixed(cfg.tickDigits);
    
    
  });
  const sig = mk('text', { x: cfg.signalX, y: 2700, 'font-size': 21, 'text-anchor': 'middle' }, g);
  sig.textContent = 'Signal';
  
  
  cfg.terms.forEach((term, i) => {
    const y = rowY(i), color = fdrPalette[cfg.fdrClass[i]], x = xS(cfg.signal[i]);
    const r = cfg.radiusK * Math.sqrt(cfg.count[i]);
    const lines = term.split('\n');
    lines.forEach((ln, li) => {
      const t = mk('text', { x: cfg.labelX, y: lines.length > 1 ? y - 2 + li * 23 : y + 7, 'font-size': 21.5, 'text-anchor': 'end' }, g);
      t.textContent = ln;
      
      
    });
    const stem = mk('line', { x1: cfg.left, x2: x, y1: y, y2: y, stroke: color, 'stroke-width': 7 }, g);
    
    
    const dot = mk('circle', { cx: x, cy: y, r: r, fill: color, stroke: '#8d8d8d', 'stroke-opacity': 0.6, 'stroke-width': 4.5 }, g);
    
    
    const dash = mk('line', { x1: x, x2: x, y1: y - r * 0.6, y2: y + r * 0.6, stroke: '#777', 'stroke-opacity': 0.6, 'stroke-width': 1, 'stroke-dasharray': '3 3' }, g);
    
    
  });
  const groupsTitle = mk('text', { 'font-size': 20, 'text-anchor': 'middle', transform: 'translate(' + cfg.groupsX + ',' + cfg.groupsY + ') rotate(-90)' }, g);
  groupsTitle.textContent = 'Groups at similarity 0.8';
  
  
  const fdrT = mk('text', { x: cfg.fdrTitleX, y: cfg.fdrTitleY, 'font-size': 21 }, g);
  fdrT.textContent = 'FDR';
  
  
  cfg.fdrLabels.forEach((lb, i) => {
    const y = cfg.barTop + i * 34.1;
    const seg = mk('rect', { x: cfg.barX, y: y, width: 25, height: 34.6, fill: fdrPalette[i] }, g);
    
    
    const tk = mk('line', { x1: cfg.barX + 25, x2: cfg.barX + 32, y1: y + 17, y2: y + 17, stroke: '#333', 'stroke-width': 2 }, g);
    
    
    const t = mk('text', { x: cfg.barX + 41, y: y + 24, 'font-size': 21 }, g);
    t.textContent = lb;
    
    
  });
  const gcT = mk('text', { x: cfg.gcTitleX, y: cfg.gcTitleY, 'font-size': 21 }, g);
  gcT.textContent = 'Gene count';
  
  
  cfg.legendCounts.forEach((c, i) => {
    const r = cfg.radiusK * Math.sqrt(c);
    const d = mk('circle', { cx: cfg.gcX, cy: cfg.gcY[i], r: r, fill: fdrPalette[0], stroke: '#8d8d8d', 'stroke-opacity': 0.6, 'stroke-width': 4.5 }, g);
    
    
    const t = mk('text', { x: cfg.gcLabelX, y: cfg.gcY[i] + 8, 'font-size': 21 }, g);
    t.textContent = c;
    
    
  });
}
drawLollipop({ id: 'lolliF', terms: msTerms, signal: msSignal, count: msGeneCount, fdrClass: msFdrClass, groupStarts: msGroupStarts, groupEnds: msGroupEnds, ticks: msTicks, tickDigits: 1, fdrLabels: msFdrLabels, legendCounts: msLegendCounts,
  rowStart: 1967, rowStep: 67.9, left: 357, right: 1264, sideX: 1291, gridTop: 1899, labelX: 348, signalX: 811, radiusK: 5.5, xScale: v => 382 + (v - 1.1) * 1100,
  groupsX: 1353, groupsY: 2266, fdrTitleX: 1378, fdrTitleY: 1930, barX: 1388, barTop: 1944, gcTitleX: 1387, gcTitleY: 2204, gcX: 1426, gcY: [2243, 2292, 2357, 2430], gcLabelX: 1464 });
drawLollipop({ id: 'lolliG', terms: rnaTerms, signal: rnaSignal, count: rnaGeneCount, fdrClass: rnaFdrClass, groupStarts: rnaGroupStarts, groupEnds: rnaGroupEnds, ticks: rnaTicks, tickDigits: 2, fdrLabels: rnaFdrLabels, legendCounts: rnaLegendCounts,
  rowStart: 1974, rowStep: 67.3, left: 1904, right: 2796, sideX: 2813, gridTop: 1907, labelX: 1895, signalX: 2349, radiusK: 4.6, xScale: v => 2039 + (v - 0.35) * 2960,
  groupsX: 2874, groupsY: 2270, fdrTitleX: 2898, fdrTitleY: 1937, barX: 2907, barTop: 1951, gcTitleX: 2906, gcTitleY: 2209, gcX: 2944, gcY: [2247, 2293, 2354, 2425], gcLabelX: 2983 });

/* ===== Heatmap ===== */
(function () {
  const g = byId('heat');
  const stops = [[5,48,97],[33,102,172],[67,147,195],[146,197,222],[209,229,240],[236,236,236],[250,222,205],[245,170,135],[222,110,85],[178,24,43],[103,0,31]];
  function heatColor(v) {
    const t = Math.max(0, Math.min(1, (v + 2.15) / 3.3)) * 10;
    const i = Math.min(9, Math.floor(t)), f = t - i;
    const c = stops[i].map((s, k) => Math.round(s + (stops[i + 1][k] - s) * f));
    return 'rgb(' + c.join(',') + ')';
  }
  const colX = i => 1218 + 94 * i;
  const rowY = i => 3022 + 40.7 * i;
  heatRows.forEach((name, r) => {
    const bg = mk('rect', { x: 2349, y: rowY(r) + 1, width: 669, height: 38.7, fill: '#f2f2f2' }, g);
    
    
    const t = mk('text', { x: 2359, y: rowY(r) + 31, 'font-size': 30, 'font-style': 'italic' }, g);
    t.textContent = name;
    
    
    heatValues[r].forEach((v, c) => {
      const cell = mk('rect', { x: colX(c), y: rowY(r), width: 94, height: 40.7, fill: heatColor(v), stroke: '#a0a0a0', 'stroke-width': 1.5 }, g);
      
      
    });
  });
  heatCols.forEach((name, c) => {
    const a = mk('rect', { x: colX(c), y: 2988, width: 94, height: 26, fill: heatGroups[c] === 'PF' ? '#4f92d8' : '#ff0000', stroke: '#a0a0a0', 'stroke-width': 1.5 }, g);
    
    
    const cx = colX(c) + 47;
    const t = mk('text', { 'font-size': 30, 'text-anchor': 'end', 'font-style': 'italic', transform: 'translate(' + (cx + 24) + ',3658) rotate(-38)' }, g);
    t.textContent = name;
    
    
  });
  function seg(x1, y1, x2, y2) {
    const l = mk('line', { x1: x1, y1: y1, x2: x2, y2: y2, stroke: '#000', 'stroke-width': 3, 'stroke-linecap': 'square' }, g);
    
    
  }
  function colTree(n) {
    if (typeof n === 'number') return { p: colX(n) + 47, d: 0 };
    const a = colTree(n[1]), b = colTree(n[2]);
    const y = 2986 - n[0] * 0.65;
    seg(a.p, 2986 - a.d * 0.65, a.p, y);
    seg(b.p, 2986 - b.d * 0.65, b.p, y);
    seg(a.p, y, b.p, y);
    return { p: (a.p + b.p) / 2, d: n[0] };
  }
  colTree(heatColTree);
  function rowTree(n) {
    if (typeof n === 'number') return { p: rowY(n) + 20.35, d: 0 };
    const a = rowTree(n[1]), b = rowTree(n[2]);
    const x = 1216 - n[0] * 1.28;
    seg(1216 - a.d * 1.28, a.p, x, a.p);
    seg(1216 - b.d * 1.28, b.p, x, b.p);
    seg(x, a.p, x, b.p);
    return { p: (a.p + b.p) / 2, d: n[0] };
  }
  rowTree(heatRowTree);
})();
</script>
</body>
</html>
